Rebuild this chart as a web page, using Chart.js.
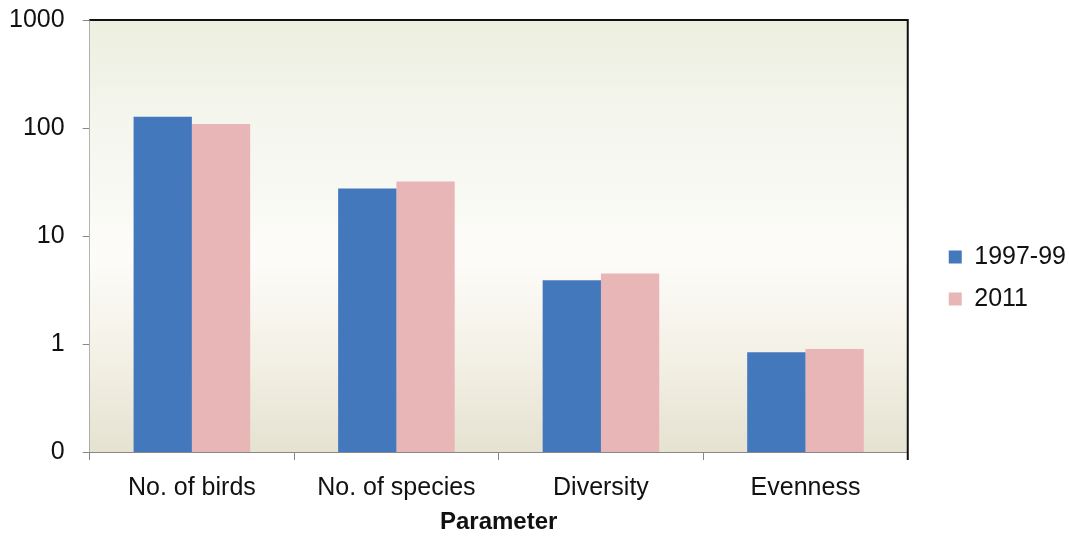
<!DOCTYPE html>
<html>
<head>
<meta charset="utf-8">
<script src="https://cdn.jsdelivr.net/npm/chart.js@4.4.1/dist/chart.umd.min.js"></script>
<style>
html,body{margin:0;padding:0;background:#fff;}
#wrap{width:1069px;height:536px;position:relative;}
</style>
</head>
<body>
<div id="wrap"><canvas id="c" width="1069" height="536"></canvas></div>
<script>
const categories = ["No. of birds", "No. of species", "Diversity", "Evenness"];
const series1997 = [127, 27.5, 3.9, 0.84];
const series2011 = [109, 32, 4.5, 0.90];
const yTickValues = [0.1, 1, 10, 100, 1000];
const yTickLabels = ["0", "1", "10", "100", "1000"];
const seriesNames = ["1997-99", "2011"];

const FONT = 'Liberation Sans, Arial, sans-serif';

const bgPlugin = {
  id: 'bgPlugin',
  beforeDatasetsDraw(chart) {
    const {ctx, chartArea: a} = chart;
    const g = ctx.createLinearGradient(0, a.top, 0, a.bottom);
    g.addColorStop(0, '#edefe0');
    g.addColorStop(0.25, '#f5f6ee');
    g.addColorStop(0.55, '#fdfcf9');
    g.addColorStop(0.78, '#f3f0e5');
    g.addColorStop(1, '#e6e2d1');
    ctx.save();
    ctx.fillStyle = g;
    ctx.fillRect(a.left, a.top, a.right - a.left, a.bottom - a.top);
    ctx.restore();
  },
  afterDraw(chart) {
    const {ctx, chartArea: a} = chart;
    ctx.save();
    ctx.strokeStyle = '#111';
    ctx.lineWidth = 2;
    ctx.beginPath();
    ctx.moveTo(a.left, a.top);
    ctx.lineTo(a.right, a.top);
    ctx.lineTo(a.right, a.bottom + 8);
    ctx.stroke();
    ctx.restore();
  }
};

new Chart(document.getElementById('c'), {
  type: 'bar',
  data: {
    labels: categories,
    datasets: [
      {label: seriesNames[0], data: series1997, backgroundColor: '#4478bc', borderWidth: 0},
      {label: seriesNames[1], data: series2011, backgroundColor: '#e8b6b7', borderWidth: 0}
    ]
  },
  options: {
    responsive: false,
    animation: false,
    devicePixelRatio: 1,
    layout: {autoPadding: false, padding: {left: -9, top: 20, right: -7, bottom: 0}},
    datasets: {bar: {barPercentage: 1, categoryPercentage: 0.57}},
    plugins: {
      legend: {
        position: 'right',
        labels: {
          font: {family: FONT, size: 25},
          color: '#111',
          boxWidth: 13,
          boxHeight: 13,
          padding: 17
        }
      },
      tooltip: {enabled: false}
    },
    scales: {
      x: {
        grid: {drawOnChartArea: false, tickLength: 8, color: '#888', offset: true},
        border: {color: '#888', width: 2},
        ticks: {font: {family: FONT, size: 25}, color: '#111', padding: 13},
        title: {display: true, text: 'Parameter', font: {family: FONT, size: 24, weight: 'bold', lineHeight: 1}, color: '#111', padding: {top: -6, bottom: 2}}
      },
      y: {
        type: 'logarithmic',
        min: 0.1,
        max: 1000,
        afterBuildTicks(scale) {
          scale.ticks = yTickValues.map(v => ({value: v}));
        },
        grid: {drawOnChartArea: false, tickLength: 7, color: '#888'},
        border: {color: '#888', width: 2},
        ticks: {
          font: {family: FONT, size: 25, lineHeight: 0.1},
          color: '#111',
          padding: 18,
          callback(value) {
            const i = yTickValues.indexOf(value);
            return i >= 0 ? yTickLabels[i] : '';
          }
        }
      },
      gap: {
        type: 'linear',
        position: 'right',
        display: true,
        grid: {display: false},
        border: {display: false},
        ticks: {display: false},
        afterFit(scale) { scale.width = 24; }
      }
    }
  },
  plugins: [bgPlugin]
});
</script>
</body>
</html>
